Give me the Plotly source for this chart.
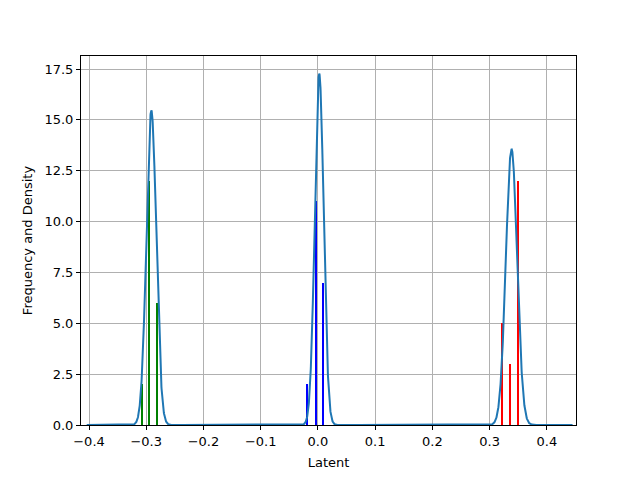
import numpy as np
import plotly.graph_objects as go

# Histogram bars (bin position, count) per cluster
green_x = [-0.308, -0.2947, -0.2818]
green_y = [2, 12, 6]
blue_x = [-0.0187, -0.0040, 0.0087]
blue_y = [2, 11, 7]
red_x = [0.3220, 0.3360, 0.3493]
red_y = [5, 3, 12]

# Mixture density components (mean, sigma, weight)
comp_means = [-0.2911, 0.0023, 0.3383]
comp_sigmas = [0.0086, 0.0077, 0.0098]
comp_weights = [1 / 3, 1 / 3, 1 / 3]
curve_start, curve_end = -0.404, 0.445

x_ticks = [-0.4, -0.3, -0.2, -0.1, 0.0, 0.1, 0.2, 0.3, 0.4]
y_ticks = [0.0, 2.5, 5.0, 7.5, 10.0, 12.5, 15.0, 17.5]

xs = np.linspace(curve_start, curve_end, 4000)
dens = np.zeros_like(xs)
for m, s, w in zip(comp_means, comp_sigmas, comp_weights):
    dens += w * np.exp(-0.5 * ((xs - m) / s) ** 2) / (s * np.sqrt(2 * np.pi))

fig = go.Figure()
bw = 0.0035
for bx, by, col in [(green_x, green_y, "#008000"), (blue_x, blue_y, "#0000ff"), (red_x, red_y, "#ff0000")]:
    fig.add_trace(go.Bar(x=bx, y=by, width=[bw] * len(bx), marker=dict(color=col, line=dict(width=0)),
                         showlegend=False))
fig.add_trace(go.Scatter(x=xs, y=dens, mode="lines", line=dict(color="#1f77b4", width=2), showlegend=False))

font = dict(family="DejaVu Sans", size=13, color="black")
axis_common = dict(
    showline=True, linecolor="black", linewidth=1, mirror=True,
    ticks="outside", ticklen=4, tickwidth=1, tickcolor="black",
    showgrid=True, gridcolor="#b0b0b0", gridwidth=1, zeroline=False,
    tickfont=font,
)
fig.update_layout(
    width=641, height=479,
    margin=dict(l=73, r=73, t=48, b=62),
    paper_bgcolor="white", plot_bgcolor="white",
    font=font, bargap=0,
    xaxis=dict(range=[-0.414, 0.451], tickvals=x_ticks, tickformat=".1f",
               title=dict(text="Latent", font=font, standoff=10), **axis_common),
    yaxis=dict(range=[0, 18.14], tickvals=y_ticks, tickformat=".1f",
               title=dict(text="Frequency and Density", font=font, standoff=8), **axis_common),
)
fig.write_html("out.html")
